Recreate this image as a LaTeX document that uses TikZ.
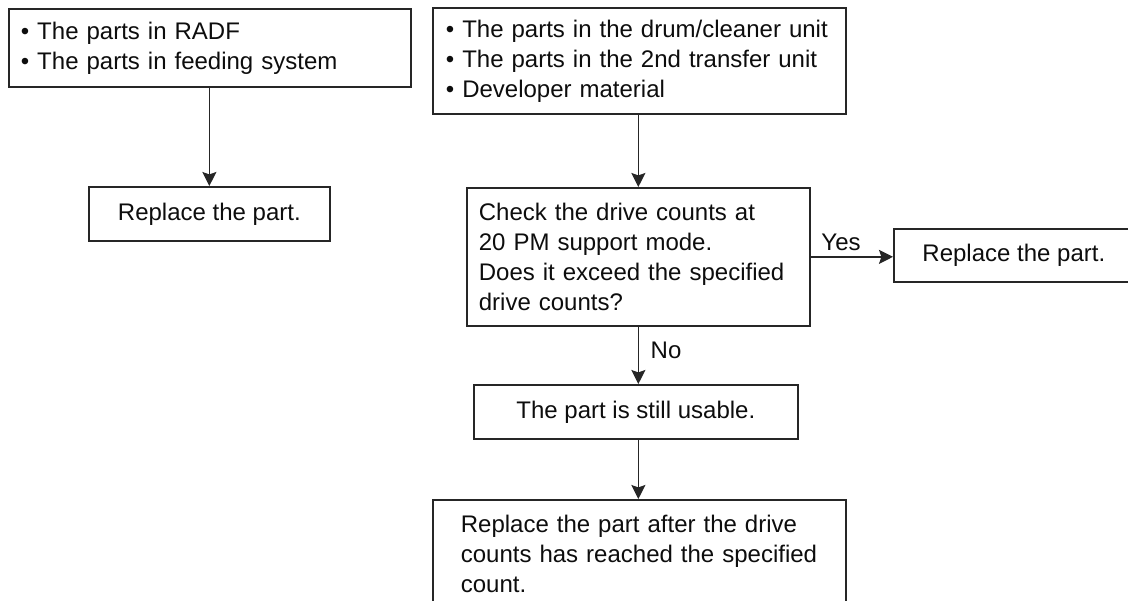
\documentclass[tikz,border=0pt]{standalone}
\usepackage{fontspec}
\setmainfont{Liberation Sans}
\usetikzlibrary{arrows.meta}
\begin{document}
\begin{tikzpicture}[x=0.5pt,y=-0.5pt,
  box/.style={draw=black!85, line width=0.85pt, font=\fontsize{12}{15}\selectfont,
    text=black!95, inner ysep=0pt, anchor=north west},
  cbox/.style={box, align=center},
  lbox/.style={box, align=left},
  arr/.style={draw=black!85, line width=0.85pt, -{Stealth[length=7pt,width=7pt,inset=1.2pt]}},
  lbl/.style={font=\fontsize{12}{15}\selectfont, text=black!95, inner sep=0pt}]
\clip (0,0) rectangle (1128,600);
% left column
\node[lbox, minimum width=201pt, minimum height=39pt, text width=189pt, inner xsep=6pt] (A) at (8,8)
  {• The parts in RADF\\• The parts in feeding system};
\node[cbox, minimum width=120.5pt, minimum height=27pt] (B) at (88,186) {Replace the part.};
% right column
\node[lbox, minimum width=206.5pt, minimum height=53pt, text width=193.5pt, inner xsep=6.5pt] (C) at (432,7)
  {• The parts in the drum/cleaner unit\\• The parts in the 2nd transfer unit\\• Developer material};
\node[lbox, minimum width=171.5pt, minimum height=69pt, text width=159.5pt, inner xsep=6pt] (D) at (466,187)
  {Check the drive counts at\\20 PM support mode.\\Does it exceed the specified\\drive counts?};
\node[cbox, minimum width=120pt, minimum height=26.5pt] (E) at (893,228) {Replace the part.};
\node[cbox, minimum width=162pt, minimum height=27pt] (F) at (473,384) {The part is still usable.};
\node[lbox, minimum width=206.5pt, minimum height=54pt, text width=178.5pt, inner xsep=14pt] (G) at (432,499)
  {Replace the part after the drive\\counts has reached the specified\\count.};
% connectors
\draw[arr] (B.north |- A.south) -- (B.north);
\draw[arr] (D.north |- C.south) -- (D.north);
\draw[arr] (D.east) -- (D.east -| E.west);
\draw[arr] (D.south) -- (D.south |- F.north);
\draw[arr] (D.south |- F.south) -- (D.south |- G.north);
% labels
\node[lbl] (yes) at (841,242) {Yes};
\node[lbl] (no) at (666,350) {No};
\end{tikzpicture}
\end{document}
